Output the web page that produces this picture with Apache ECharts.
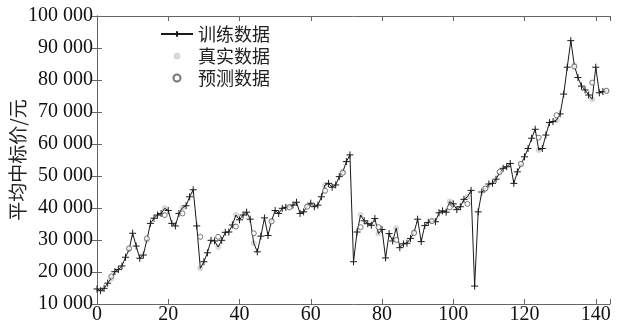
<!DOCTYPE html>
<html>
<head>
<meta charset="utf-8">
<script src="https://cdn.jsdelivr.net/npm/echarts@6/dist/echarts.min.js"></script>
<style>
html,body{margin:0;padding:0;background:#fff;}
#chart{width:622px;height:328px;}
</style>
</head>
<body>
<div id="chart"></div>
<script>
// Actual (true) average winning bid price per index 0..143
const actualPrice = [
  14700,14150,14900,16500,18000,20100,20800,21900,24600,27000,
  32100,28100,24300,25300,30000,35200,36800,37800,38300,39900,
  39200,35200,34400,38300,40100,40700,43500,45700,34400,21150,
  23200,26000,29900,29700,27800,29900,32400,32500,34700,37800,
  36300,37800,38700,36500,29000,26300,31200,36900,31400,36000,
  39200,38300,39900,40200,40400,40900,41800,38300,38800,40600,
  41500,40400,40900,43500,47200,47700,46500,47200,49800,51300,
  54500,56600,23200,32500,37800,36000,35100,34600,36700,32000,
  33300,24400,32000,29700,33700,27600,28800,29000,30500,32400,
  36500,29500,34500,35500,36000,35700,38500,39100,38700,42000,
  41300,39500,40400,42700,43500,45500,15600,38800,45000,46000,
  47500,47700,49000,51000,52400,52900,53900,47700,51300,53500,
  56000,58600,61800,64600,58100,58600,62800,66700,67000,67500,
  69400,75600,84000,92300,84500,80800,78100,76900,75300,74000,
  84000,76000,76400,76700
];
// Indices of the test samples and the model's predictions for them
const testIndex = [4,9,14,19,24,29,34,39,44,49,54,59,64,69,74,79,84,89,94,99,104,109,113,119,124,129,134,139,143];
const predictedPrice = [18600,27400,30500,37800,38300,31000,31000,34200,32100,35800,40200,40400,45400,51000,34000,34000,30000,32200,35900,40200,41300,46100,51300,53800,62000,69000,84200,79200,76600];

const xTicks = [0,20,40,60,80,100,120,140];
const seriesNames = ['训练数据','真实数据','预测数据'];
const yAxisTitle = '平均中标价/元';

const testSet = new Set(testIndex);
const lineData = actualPrice.map((v,i)=> testSet.has(i) ? {value:[i,v], symbol:'none'} : [i,v]);
const realData = testIndex.map(i => [i, actualPrice[i]]);
const predData = testIndex.map((i,k) => [i, predictedPrice[k]]);

const serif = '"Liberation Serif","Times New Roman",serif';
const cjk = '"Noto Sans CJK SC","Noto Sans CJK JP",sans-serif';
const axisColor = '#666';
const fmt = v => { const s = String(v); return s.length > 3 ? s.slice(0, s.length-3) + ' ' + s.slice(-3) : s; };

const chart = echarts.init(document.getElementById('chart'), null, {renderer:'canvas'});
chart.setOption({
  backgroundColor:'#fff',
  animation:false,
  grid:{left:97, right:12, top:16, bottom:24, containLabel:false, outerBoundsMode:'none'},
  legend:{
    orient:'vertical', left:160, top:25, itemGap:4, padding:0,
    itemWidth:32, itemHeight:7,
    textStyle:{fontFamily:cjk, fontSize:18, color:'#222'},
    data:seriesNames
  },
  xAxis:[{
    type:'value', min:0, max:144, interval:20,
    axisLine:{show:true, lineStyle:{color:axisColor, width:1}},
    axisTick:{show:true, inside:true, length:5, lineStyle:{color:axisColor}},
    splitLine:{show:false},
    axisLabel:{fontFamily:serif, fontSize:20, color:'#111', margin:1,
      formatter: v => xTicks.includes(v) ? String(v) : ''}
  },{
    type:'value', position:'top', min:0, max:144, interval:20,
    axisLine:{show:true, lineStyle:{color:axisColor, width:1}},
    axisTick:{show:true, inside:true, length:5, lineStyle:{color:axisColor}},
    axisLabel:{show:false}, splitLine:{show:false}
  }],
  yAxis:[{
    type:'value', min:10000, max:100000, interval:10000,
    name:yAxisTitle, nameLocation:'middle', nameGap:70, nameRotate:90, nameMoveOverlap:false,
    nameTextStyle:{fontFamily:cjk, fontSize:19, color:'#222'},
    axisLine:{show:true, lineStyle:{color:axisColor, width:1}},
    axisTick:{show:true, inside:true, length:5, lineStyle:{color:axisColor}},
    splitLine:{show:false},
    axisLabel:{fontFamily:serif, fontSize:20, color:'#111', margin:4, formatter:fmt}
  },{
    type:'value', position:'right', min:10000, max:100000, interval:10000,
    axisLine:{show:true, lineStyle:{color:axisColor, width:1}},
    axisTick:{show:true, inside:true, length:5, lineStyle:{color:axisColor}},
    axisLabel:{show:false}, splitLine:{show:false}
  }],
  series:[
    {
      name:seriesNames[1], type:'scatter', z:1,
      symbol:'circle', symbolSize:6,
      itemStyle:{color:'#d0d0d0'},
      data:realData
    },
    {
      name:seriesNames[0], type:'line', z:2,
      symbol:'path://M5 0L5 10M0 5L10 5', symbolSize:7, showSymbol:true,
      lineStyle:{color:'#1a1a1a', width:1},
      itemStyle:{color:'none', borderColor:'#1a1a1a', borderWidth:1},
      data:lineData
    },
    {
      name:seriesNames[2], type:'scatter', z:3,
      symbol:'circle', symbolSize:5,
      itemStyle:{color:'#fff', borderColor:'#555', borderWidth:1},
      data:predData
    }
  ]
});
</script>
</body>
</html>
